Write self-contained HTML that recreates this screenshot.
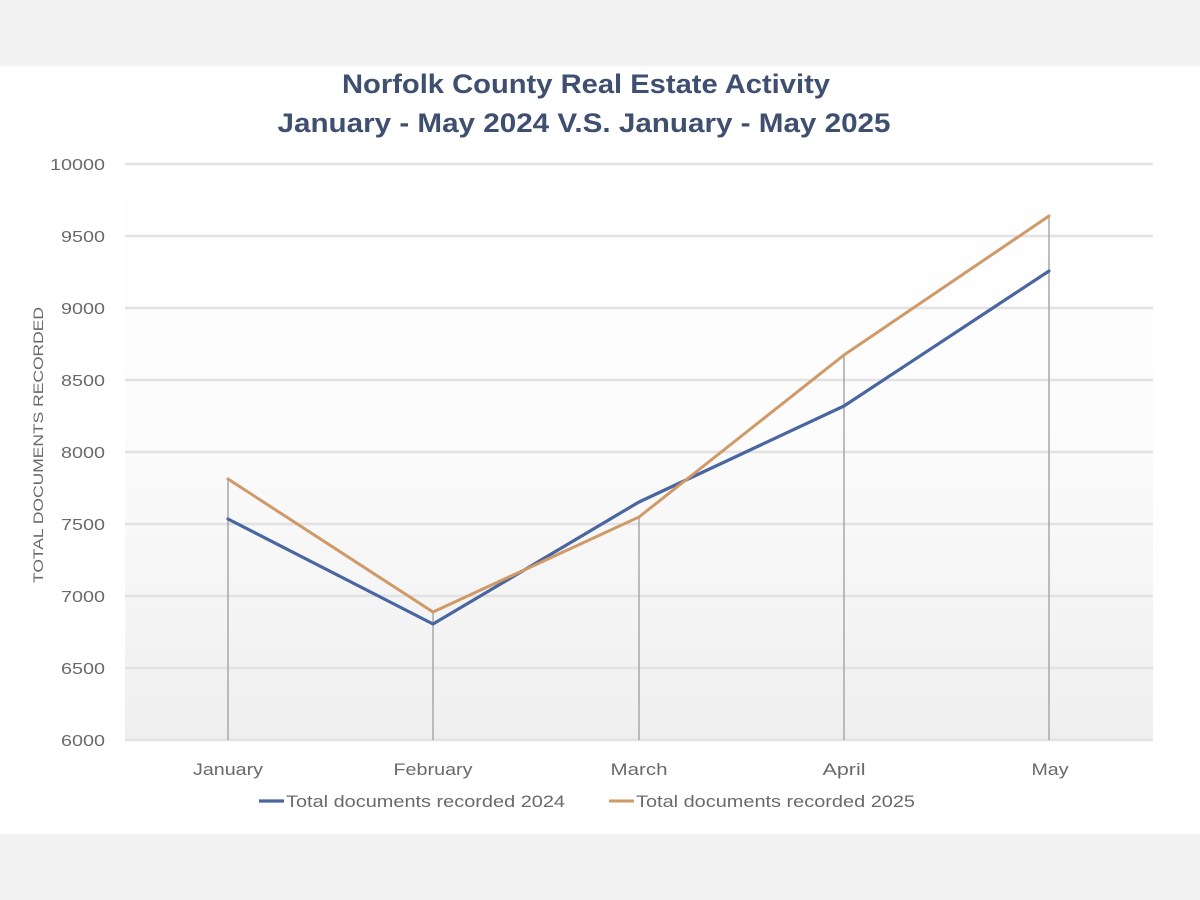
<!DOCTYPE html>
<html>
<head>
<meta charset="utf-8">
<style>
  html,body{margin:0;padding:0;background:#f2f2f2;}
  svg{display:block;}
  text{font-family:"Liberation Sans",sans-serif;}
</style>
</head>
<body>
<svg width="1200" height="900" viewBox="0 0 1200 900" xmlns="http://www.w3.org/2000/svg">
  <defs>
    <linearGradient id="pbg" x1="0" y1="0" x2="0" y2="1">
      <stop offset="0" stop-color="#ffffff"/>
      <stop offset="0.45" stop-color="#fcfcfc"/>
      <stop offset="1" stop-color="#efefef"/>
    </linearGradient>
  </defs>
  <!-- bands -->
  <rect x="0" y="0" width="1200" height="900" fill="#f2f2f2"/>
  <rect x="0" y="66" width="1200" height="768" fill="#ffffff"/>
  <rect x="0" y="65" width="1200" height="2" fill="#f8f8f8"/>

  <!-- plot area -->
  <rect x="125" y="164" width="1028" height="576" fill="url(#pbg)"/>

  <!-- gridlines -->
  <g stroke="#e2e2e2" stroke-width="2.5">
    <line x1="125" y1="164" x2="1153" y2="164"/>
    <line x1="125" y1="236" x2="1153" y2="236"/>
    <line x1="125" y1="308" x2="1153" y2="308"/>
    <line x1="125" y1="380" x2="1153" y2="380"/>
    <line x1="125" y1="452" x2="1153" y2="452"/>
    <line x1="125" y1="524" x2="1153" y2="524"/>
    <line x1="125" y1="596" x2="1153" y2="596"/>
    <line x1="125" y1="668" x2="1153" y2="668"/>
    <line x1="125" y1="740" x2="1153" y2="740"/>
  </g>

  <!-- drop lines -->
  <g stroke="#a8a8a8" stroke-width="1.5">
    <line x1="228" y1="479" x2="228" y2="740"/>
    <line x1="433" y1="612" x2="433" y2="740"/>
    <line x1="639" y1="518" x2="639" y2="740"/>
    <line x1="844" y1="355" x2="844" y2="740"/>
    <line x1="1049" y1="216" x2="1049" y2="740"/>
  </g>

  <!-- series -->
  <polyline points="228,519 433,624 639,502 844,406 1049,271" fill="none" stroke="#4a66a0" stroke-width="3.2" stroke-linejoin="round" stroke-linecap="round"/>
  <polyline points="228,479 433,612 639,517 844,355 1049,216" fill="none" stroke="#cf9a68" stroke-width="3" stroke-linejoin="round" stroke-linecap="round"/>

  <!-- title -->
  <text x="586" y="93" text-anchor="middle" font-size="27" font-weight="bold" fill="#3e4f70" textLength="488" lengthAdjust="spacingAndGlyphs">Norfolk County Real Estate Activity</text>
  <text x="584" y="132" text-anchor="middle" font-size="27" font-weight="bold" fill="#3e4f70" textLength="613" lengthAdjust="spacingAndGlyphs">January - May 2024 V.S. January - May 2025</text>

  <!-- y tick labels -->
  <g font-size="16" fill="#6a6a6a" text-anchor="end">
    <text x="105" y="170" textLength="55" lengthAdjust="spacingAndGlyphs">10000</text>
    <text x="105" y="242" textLength="44" lengthAdjust="spacingAndGlyphs">9500</text>
    <text x="105" y="314" textLength="44" lengthAdjust="spacingAndGlyphs">9000</text>
    <text x="105" y="386" textLength="44" lengthAdjust="spacingAndGlyphs">8500</text>
    <text x="105" y="458" textLength="44" lengthAdjust="spacingAndGlyphs">8000</text>
    <text x="105" y="530" textLength="44" lengthAdjust="spacingAndGlyphs">7500</text>
    <text x="105" y="602" textLength="44" lengthAdjust="spacingAndGlyphs">7000</text>
    <text x="105" y="674" textLength="44" lengthAdjust="spacingAndGlyphs">6500</text>
    <text x="105" y="746" textLength="44" lengthAdjust="spacingAndGlyphs">6000</text>
  </g>

  <!-- y axis title -->
  <text x="0" y="0" transform="translate(43,445) rotate(-90)" text-anchor="middle" font-size="14" fill="#6a6a6a" textLength="276" lengthAdjust="spacingAndGlyphs">TOTAL DOCUMENTS RECORDED</text>

  <!-- x labels -->
  <g font-size="17" fill="#6a6a6a" text-anchor="middle">
    <text x="228" y="775" textLength="70" lengthAdjust="spacingAndGlyphs">January</text>
    <text x="433" y="775" textLength="79" lengthAdjust="spacingAndGlyphs">February</text>
    <text x="639" y="775" textLength="57" lengthAdjust="spacingAndGlyphs">March</text>
    <text x="844" y="775" textLength="43" lengthAdjust="spacingAndGlyphs">April</text>
    <text x="1050" y="775" textLength="37" lengthAdjust="spacingAndGlyphs">May</text>
  </g>

  <!-- legend -->
  <line x1="259" y1="801" x2="284" y2="801" stroke="#4a66a0" stroke-width="3.2"/>
  <text x="286" y="807" font-size="17" fill="#6a6a6a" textLength="279" lengthAdjust="spacingAndGlyphs">Total documents recorded 2024</text>
  <line x1="609" y1="801" x2="634" y2="801" stroke="#cf9a68" stroke-width="3"/>
  <text x="636" y="807" font-size="17" fill="#6a6a6a" textLength="279" lengthAdjust="spacingAndGlyphs">Total documents recorded 2025</text>
</svg>
</body>
</html>
